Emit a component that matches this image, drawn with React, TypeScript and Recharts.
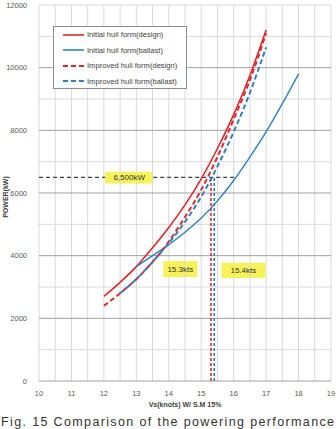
import React from "react";
import {
  LineChart,
  Line,
  XAxis,
  YAxis,
  CartesianGrid,
  ReferenceLine,
  ReferenceArea,
  Label,
} from "recharts";

// axis ticks and grid
const speedTicks = [10, 11, 12, 13, 14, 15, 16, 17, 18, 19];
const powerTicks = [0, 2000, 4000, 6000, 8000, 10000, 12000];
const minorSpeeds = [10.5, 11.5, 12.5, 13.5, 14.5, 15.5, 16.5, 17.5, 18.5];
const minorPowers = [1000, 3000, 5000, 7000, 9000, 11000];

// series (speed in knots, power in kW)
const initialDesignSpeed = [12, 12.5, 13, 13.5, 14, 14.5, 15, 15.5, 16, 16.5, 17];
const initialDesignPower = [2700, 3150, 3650, 4250, 4900, 5620, 6450, 7420, 8500, 9750, 11200];
const initialBallastSpeed = [13, 13.5, 14, 14.5, 15, 15.5, 16, 16.5, 17, 17.5, 18];
const initialBallastPower = [3650, 4000, 4350, 4750, 5200, 5750, 6400, 7150, 7950, 8850, 9800];
const improvedDesignSpeed = [12, 12.5, 13, 13.5, 14, 14.5, 15, 15.5, 16, 16.5, 17];
const improvedDesignPower = [2400, 2800, 3250, 3800, 4450, 5230, 6100, 7150, 8350, 9600, 11100];
const improvedBallastSpeed = [12.5, 13, 13.5, 14, 14.5, 15, 15.5, 16, 16.5, 17];
const improvedBallastPower = [2800, 3250, 3800, 4400, 5080, 5880, 6850, 7950, 9200, 10650];

// annotations
const targetPower = 6500;
const targetEndSpeed = 16.08;
const designSpeed = 15.3;
const ballastSpeed = 15.4;
const powerBox = { x1: 12.04, x2: 13.52, y1: 6300, y2: 6680 };
const designBox = { x1: 13.83, x2: 14.88, y1: 3320, y2: 3830 };
const ballastBox = { x1: 15.62, x2: 16.98, y1: 3290, y2: 3770 };

const RED = "#e3262c";
const BLUE = "#2f80c3";
const GRID = "#d9d9d9";
const MAJOR = "#a0a0a0";
const YELLOW = "#f8f25a";
const FONT = "'Liberation Sans', Arial, sans-serif";

const toPoints = (speeds: number[], powers: number[]) =>
  speeds.map((v, i) => ({ v, p: powers[i] }));

const series = [
  { name: "Initial hull form(design)", color: RED, dash: undefined, width: 1.6, data: toPoints(initialDesignSpeed, initialDesignPower) },
  { name: "Initial hull form(ballast)", color: BLUE, dash: undefined, width: 1.4, data: toPoints(initialBallastSpeed, initialBallastPower) },
  { name: "Improved hull form(design)", color: RED, dash: "5 3", width: 2, data: toPoints(improvedDesignSpeed, improvedDesignPower) },
  { name: "Improved hull form(ballast)", color: BLUE, dash: "5 3", width: 2, data: toPoints(improvedBallastSpeed, improvedBallastPower) },
];

function LegendBox() {
  return (
    <div
      style={{
        position: "absolute",
        left: 53,
        top: 26,
        border: "1px solid #8c8c8c",
        background: "#fff",
        width: 134,
        height: 63,
        boxSizing: "border-box",
      }}
    >
      {series.map((s) => (
        <div key={s.name} style={{ display: "flex", alignItems: "center", height: 15.5, paddingLeft: 8 }}>
          <svg width={23} height={4}>
            <line x1={1} y1={2} x2={22} y2={2} stroke={s.color} strokeWidth={s.dash ? 2 : 1.6} strokeDasharray={s.dash} />
          </svg>
          <span style={{ fontFamily: FONT, fontSize: 7.6, color: "#404040", marginLeft: 2 }}>{s.name}</span>
        </div>
      ))}
    </div>
  );
}

const boxLabel = (text: string) => (
  <Label value={text} position="center" fill="#333" fontSize={8} fontFamily={FONT} />
);

export default function App() {
  return (
    <div style={{ position: "absolute", left: 0, top: 0, width: 336, height: 429, background: "#fff" }}>
      <LineChart
        width={336}
        height={429}
        margin={{ top: 5, right: 5, left: 0, bottom: 28 }}
      >
        <CartesianGrid stroke={GRID} horizontal={false} />
        {minorSpeeds.map((x) => (
          <ReferenceLine key={"mx" + x} x={x} stroke={GRID} />
        ))}
        {minorPowers.map((y) => (
          <ReferenceLine key={"my" + y} y={y} stroke={GRID} />
        ))}
        {powerTicks.map((y) => (
          <ReferenceLine key={"My" + y} y={y} stroke={y === 12000 ? GRID : MAJOR} />
        ))}
        <XAxis
          type="number"
          dataKey="v"
          domain={[10, 19]}
          ticks={speedTicks}
          axisLine={false}
          tickLine={false}
          tick={{ fontSize: 7.5, fill: "#595959", fontFamily: FONT }}
          tickMargin={4}
          height={20}
        >
          <Label
            value="Vs(knots) W/ S.M 15%"
            position="bottom"
            offset={1}
            fontSize={7}
            fontWeight="bold"
            fill="#404040"
            fontFamily={FONT}
          />
        </XAxis>
        <YAxis
          type="number"
          domain={[0, 12000]}
          ticks={powerTicks}
          axisLine={false}
          tickLine={false}
          width={39}
          tick={{ fontSize: 7.5, fill: "#595959", fontFamily: FONT }}
          tickMargin={6}
        >
          <Label
            content={() => (
              <text
                x={8}
                y={197}
                transform="rotate(-90 8 197)"
                textAnchor="middle"
                fontSize={7}
                fontWeight="bold"
                fill="#404040"
                fontFamily={FONT}
              >
                POWER(kW)
              </text>
            )}
          />
        </YAxis>
        <ReferenceLine
          segment={[
            { x: 10, y: targetPower },
            { x: powerBox.x1, y: targetPower },
          ]}
          stroke="#404040"
          strokeWidth={1.2}
          strokeDasharray="4 3"
        />
        <ReferenceLine
          segment={[
            { x: powerBox.x2, y: targetPower },
            { x: targetEndSpeed, y: targetPower },
          ]}
          stroke="#404040"
          strokeWidth={1.2}
          strokeDasharray="4 3"
        />
        <ReferenceLine
          segment={[
            { x: designSpeed, y: 0 },
            { x: designSpeed, y: targetPower },
          ]}
          stroke={RED}
          strokeWidth={1.6}
          strokeDasharray="3 2"
        />
        <ReferenceLine
          segment={[
            { x: ballastSpeed, y: 0 },
            { x: ballastSpeed, y: targetPower },
          ]}
          stroke={BLUE}
          strokeWidth={1.6}
          strokeDasharray="3 2"
        />
        <ReferenceArea {...powerBox} fill={YELLOW} fillOpacity={1} stroke="none">
          {boxLabel("6,500kW")}
        </ReferenceArea>
        <ReferenceArea {...designBox} fill={YELLOW} fillOpacity={1} stroke="none">
          {boxLabel("15.3kts")}
        </ReferenceArea>
        <ReferenceArea {...ballastBox} fill={YELLOW} fillOpacity={1} stroke="none">
          {boxLabel("15.4kts")}
        </ReferenceArea>
        {series.map((s) => (
          <Line
            key={s.name}
            name={s.name}
            data={s.data}
            dataKey="p"
            type="monotone"
            stroke={s.color}
            strokeWidth={s.width}
            strokeDasharray={s.dash}
            dot={false}
            isAnimationActive={false}
          />
        ))}
      </LineChart>
      <LegendBox />
      <svg width={336} height={20} style={{ position: "absolute", left: 0, top: 412 }}>
        <text
          x={1}
          y={14}
          fontFamily={FONT}
          fontSize={12.5}
          fill="#333"
          textLength={333}
          lengthAdjust="spacing"
        >
          Fig. 15 Comparison of the powering performance
        </text>
      </svg>
    </div>
  );
}
